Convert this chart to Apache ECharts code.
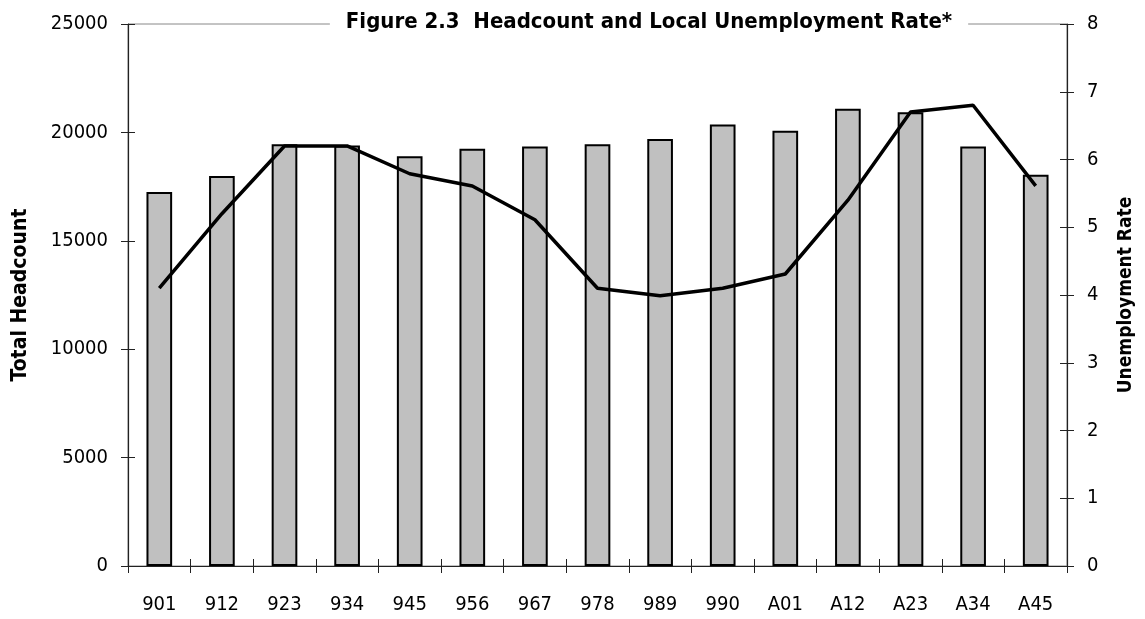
<!DOCTYPE html>
<html>
<head>
<meta charset="utf-8">
<script src="https://cdn.jsdelivr.net/npm/echarts@6/dist/echarts.min.js"></script>
<style>
  html, body { margin: 0; padding: 0; background: #fff; }
  #chart { width: 1145px; height: 619px; }
</style>
</head>
<body>
<div id="chart"></div>
<script>
// quarters
var categories = ['901', '912', '923', '934', '945', '956', '967', '978', '989', '990', 'A01', 'A12', 'A23', 'A34', 'A45'];
// total headcount (bars, left axis)
var headcount = [17250, 17990, 19450, 19400, 18900, 19250, 19350, 19450, 19700, 20370, 20080, 21090, 20930, 19350, 18050];
// local unemployment rate (line, right axis)
var unemployment = [4.1, 5.2, 6.2, 6.2, 5.79, 5.61, 5.11, 4.1, 3.99, 4.1, 4.31, 5.4, 6.7, 6.8, 5.61];

var FONT = '"DejaVu Sans Condensed", "Liberation Sans", sans-serif';
var AXIS = '#222';

var chart = echarts.init(document.getElementById('chart'), null, {renderer: 'canvas'});

chart.setOption({
  backgroundColor: '#fff',
  animation: false,
  title: {
    text: 'Figure 2.3  Headcount and Local Unemployment Rate*',
    left: 633,
    textAlign: 'center',
    top: 9,
    backgroundColor: '#fff',
    padding: [2, 16],
    textStyle: {fontFamily: FONT, fontSize: 22, fontWeight: 'bold', color: '#000'}
  },
  grid: {
    left: 128, right: 78, top: 24, bottom: 53,
    show: true, borderColor: '#888', borderWidth: 1, backgroundColor: 'transparent'
  },
  xAxis: [
    {
      type: 'category',
      data: categories,
      axisLine: {lineStyle: {color: AXIS, width: 1.2}},
      axisTick: {show: true, length: 7, lineStyle: {color: AXIS}},
      axisLabel: {margin: 29, fontFamily: FONT, fontSize: 20, color: '#000'}
    },
    {
      type: 'category',
      data: categories,
      position: 'bottom',
      axisLine: {show: false},
      axisTick: {show: true, inside: true, length: 7, lineStyle: {color: AXIS}},
      axisLabel: {show: false}
    }
  ],
  yAxis: [
    {
      type: 'value', min: 0, max: 25000, interval: 5000,
      position: 'left',
      name: 'Total Headcount', nameLocation: 'middle', nameGap: 97,
      nameTextStyle: {fontFamily: FONT, fontSize: 21, fontWeight: 'bold', color: '#000'},
      axisLine: {show: true, lineStyle: {color: AXIS, width: 1.2}},
      axisTick: {show: true, length: 7, lineStyle: {color: AXIS}},
      axisLabel: {margin: 20, fontFamily: FONT, fontSize: 20, color: '#000', formatter: function (v) { return String(v); }},
      splitLine: {show: false}
    },
    {
      type: 'value', min: 0, max: 8, interval: 1,
      position: 'right',
      name: 'Unemployment Rate', nameLocation: 'middle', nameGap: 50,
      nameTextStyle: {fontFamily: FONT, fontSize: 19, fontWeight: 'bold', color: '#000'},
      axisLine: {show: true, lineStyle: {color: AXIS, width: 1.2}},
      axisTick: {show: true, length: 7, lineStyle: {color: AXIS}},
      axisLabel: {margin: 20, fontFamily: FONT, fontSize: 20, color: '#000'},
      splitLine: {show: false}
    },
    {
      type: 'value', min: 0, max: 25000, interval: 5000,
      position: 'left',
      axisLine: {show: false},
      axisTick: {show: true, inside: true, length: 7, lineStyle: {color: AXIS}},
      axisLabel: {show: false},
      splitLine: {show: false}
    },
    {
      type: 'value', min: 0, max: 8, interval: 1,
      position: 'right',
      axisLine: {show: false},
      axisTick: {show: true, inside: true, length: 7, lineStyle: {color: AXIS}},
      axisLabel: {show: false},
      splitLine: {show: false}
    }
  ],
  series: [
    {
      name: 'Total Headcount',
      type: 'bar',
      yAxisIndex: 0,
      data: headcount,
      barWidth: '41%',
      itemStyle: {color: '#c0c0c0', borderColor: '#000', borderWidth: 2}
    },
    {
      name: 'Unemployment Rate',
      type: 'line',
      yAxisIndex: 1,
      data: unemployment,
      symbol: 'none',
      lineStyle: {color: '#000', width: 3.5},
      z: 5
    }
  ]
});
</script>
</body>
</html>
